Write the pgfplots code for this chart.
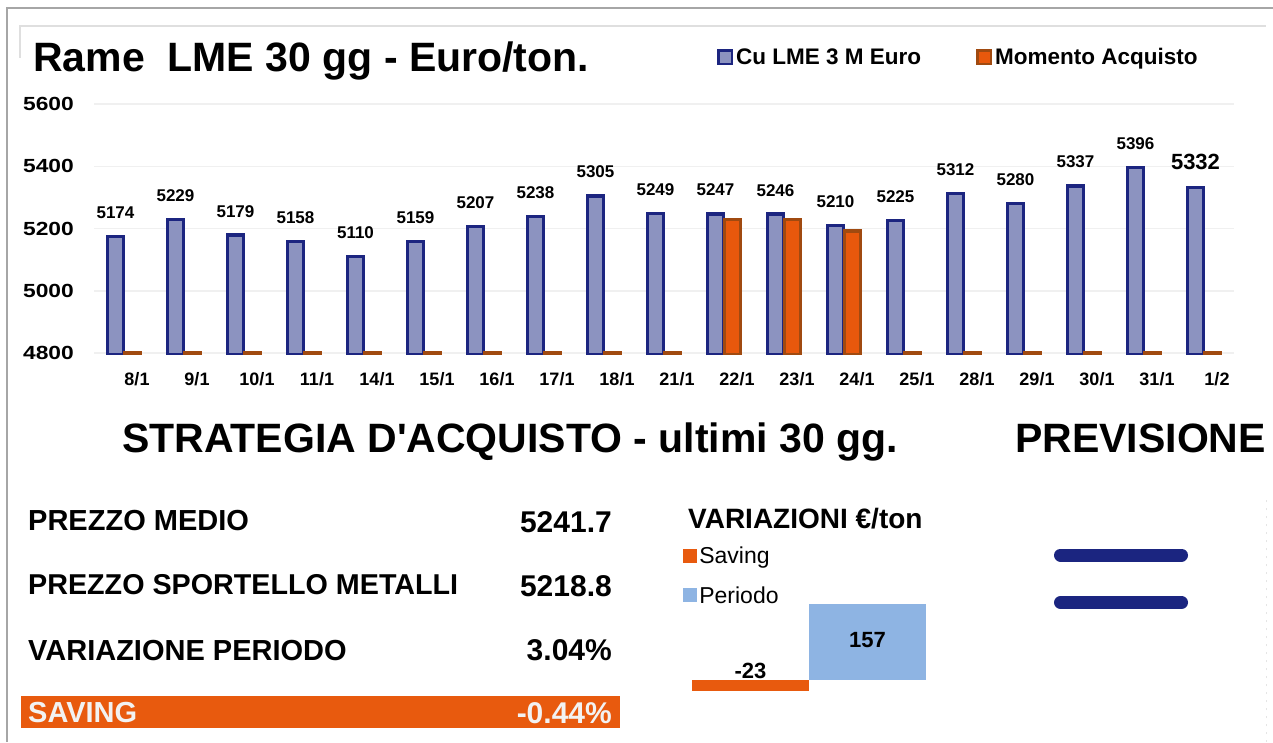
\documentclass[border=0pt]{standalone}
\usepackage{fontspec}
\setmainfont{Liberation Sans}
\newfontfamily\widefont[FakeStretch=1.2]{Liberation Sans}
\usepackage{pgfplots}
\pgfplotsset{compat=1.18}
\definecolor{cuFill}{HTML}{8C93C0}
\definecolor{cuEdge}{HTML}{1C2580}
\definecolor{acqFill}{HTML}{E8580C}
\definecolor{acqEdge}{HTML}{A04A10}
\definecolor{savOr}{HTML}{E85A0E}
\definecolor{perBlue}{HTML}{8EB4E3}
\definecolor{navy}{HTML}{1B2580}
\definecolor{txtW}{HTML}{F2F2F2}
\newcommand\fs[1]{\fontsize{#1}{#1}\selectfont}

\begin{document}
\begin{tikzpicture}[x=1pt,y=1pt]
\path[use as bounding box, fill=white] (0,0) rectangle (1273,742);
% frames
\draw[gray!70, line width=2pt] (7,0) -- (7,{742-8}) -- (1273,{742-8});
\draw[gray!25, line width=2pt] (20,{742-58}) -- (20,{742-26}) -- (1266,{742-26});
\draw[gray!20, line width=1pt, dash pattern=on 2pt off 6pt] (1266,0) -- (1266,{742-500});

\node[anchor=base west, inner sep=0, font=\fs{41}\bfseries] at (33,{742-72}) {Rame\ \ LME 30 gg - Euro/ton.};

\begin{axis}[
  at={(94pt,387.1pt)}, anchor=south west,
  scale only axis, width=1140pt, height=250.9pt,
  xmin=-0.5, xmax=18.5, ymin=4794, ymax=5600,
  ybar=1pt, bar width=16pt,
  axis line style={draw=none}, major tick length=0pt,
  ymajorgrids, grid style={line width=1.5pt, color=gray!12},
  ytick={4800,5000,5200,5400,5600},
  yticklabels={4800,5000,5200,5400,5600},
  yticklabel style={font=\widefont\fs{19}\bfseries, anchor=east, inner sep=0pt, xshift=-20pt},
  xtick={0,...,18},
  xticklabels={8/1,9/1,10/1,11/1,14/1,15/1,16/1,17/1,18/1,21/1,22/1,23/1,24/1,25/1,28/1,29/1,30/1,31/1,1/2},
  xticklabel style={font=\fs{18}\bfseries, anchor=north, inner sep=0pt, xshift=13pt, yshift=-17pt},
  /pgf/number format/.cd, 1000 sep={}, assume math mode=true, fixed, precision=0, /pgfplots/.cd,
  legend columns=2,
  legend style={draw=none, fill=none, at={(0.5465,1.231)}, anchor=north west,
    font=\fs{22.5}\bfseries, /tikz/every even column/.append style={column sep=52pt},
    inner sep=0pt, nodes={inner xsep=3pt}},
]
\addplot[fill=cuFill, draw=cuEdge, line width=3.5pt,
  legend image code/.code={\draw[fill=cuFill,draw=cuEdge,line width=2.5pt] (1.25pt,-6.75pt) rectangle (14.75pt,6.75pt);},
  visualization depends on={x \as \xval},
  nodes near coords={\ifdim\xval pt>17.5pt \fs{22}\else\fs{17}\fi\bfseries\pgfmathprintnumber{\pgfplotspointmeta}},
  point meta=y,
  every node near coord/.append style={inner sep=0pt, yshift=16pt, text=black}]
coordinates {(0,5174) (1,5229) (2,5179) (3,5158) (4,5110) (5,5159) (6,5207) (7,5238) (8,5305) (9,5249)
 (10,5247) (11,5246) (12,5210) (13,5225) (14,5312) (15,5280) (16,5337) (17,5396) (18,5332)};
\addlegendentry{Cu LME 3 M Euro}
\addplot[fill=acqFill, draw=acqEdge, line width=3.5pt,
  legend image code/.code={\draw[fill=acqFill,draw=acqEdge,line width=2.5pt] (1.25pt,-6.75pt) rectangle (14.75pt,6.75pt);}]
coordinates {(0,4800) (1,4800) (2,4800) (3,4800) (4,4800) (5,4800) (6,4800) (7,4800) (8,4800) (9,4800)
 (10,5229) (11,5229) (12,5192) (13,4800) (14,4800) (15,4800) (16,4800) (17,4800) (18,4800)};
\addlegendentry{Momento Acquisto}
\end{axis}

\node[anchor=base west, inner sep=0, font=\fs{41}\bfseries] at (122,{742-453}) {STRATEGIA D\textquotesingle ACQUISTO - ultimi 30 gg.};
\node[anchor=base west, inner sep=0, font=\fs{41}\bfseries] at (1015,{742-453}) {PREVISIONE};

% left panel
\fill[savOr] (21,{742-728}) rectangle (620,{742-696});
\node[anchor=base west, inner sep=0, font=\fs{29}\bfseries] at (28,{742-530}) {PREZZO MEDIO};
\node[anchor=base west, inner sep=0, font=\fs{28.7}\bfseries] at (28,{742-594}) {PREZZO SPORTELLO METALLI};
\node[anchor=base west, inner sep=0, font=\fs{29}\bfseries] at (28,{742-660}) {VARIAZIONE PERIODO};
\node[anchor=base west, inner sep=0, font=\fs{29}\bfseries, text=txtW] at (28,{742-722}) {SAVING};
\node[anchor=base east, inner sep=0, font=\fs{30}\bfseries] at (612,{742-532}) {5241.7};
\node[anchor=base east, inner sep=0, font=\fs{30}\bfseries] at (612,{742-596}) {5218.8};
\node[anchor=base east, inner sep=0, font=\fs{30}\bfseries] at (612,{742-660}) {3.04\%};
\node[anchor=base east, inner sep=0, font=\fs{30}\bfseries, text=txtW] at (612,{742-723}) {-0.44\%};

% variazioni
\node[anchor=base west, inner sep=0, font=\fs{28}\bfseries] at (688,{742-528}) {VARIAZIONI €/ton};
\begin{axis}[
  at={(692pt,42.6pt)}, anchor=south west,
  scale only axis, width=234pt, height=96.8pt,
  xmin=-0.5, xmax=1.5, ymin=-40, ymax=160, hide axis, clip=false,
  /pgf/number format/.cd, 1000 sep={}, assume math mode=true, /pgfplots/.cd,
  legend cell align=left,
  legend style={draw=none, fill=none, at={(-0.038,1.595)}, anchor=north west,
    font=\fs{23}, row sep=17pt, inner sep=0pt},
]
\addplot[ybar, bar width=1, bar shift=0pt, fill=savOr, draw=none,
  legend image code/.code={\fill[savOr] (0pt,-7pt) rectangle (14pt,7pt);},
  nodes near coords, point meta=y,
  every node near coord/.append style={font=\fs{22}\bfseries, inner sep=0pt, anchor=center, yshift=20pt}]
coordinates {(0,-23)};
\addlegendentry{Saving}
\addplot[ybar, bar width=1, bar shift=0pt, fill=perBlue, draw=none,
  legend image code/.code={\fill[perBlue] (0pt,-7pt) rectangle (14pt,7pt);},
  nodes near coords, point meta=y,
  every node near coord/.append style={font=\fs{22}\bfseries, inner sep=0pt, anchor=center, yshift=-36pt}]
coordinates {(1,157)};
\addlegendentry{Periodo}
\end{axis}

% previsione: equal sign
\draw[navy, line width=13pt, line cap=round] (1060.5,{742-555}) -- (1181.5,{742-555});
\draw[navy, line width=13pt, line cap=round] (1060.5,{742-602.5}) -- (1181.5,{742-602.5});
\end{tikzpicture}
\end{document}
